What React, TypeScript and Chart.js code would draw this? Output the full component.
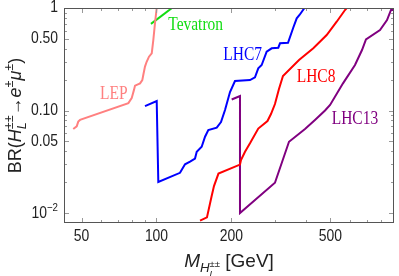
import { useEffect, useRef } from "react";
import { Chart, registerables } from "chart.js";
Chart.register(...registerables);

// ---- data (mass in GeV, branching ratio) ----
const LEP_M = [46.3, 47.8, 48.5, 49.3, 77.1, 79.5, 81.2, 82.0, 85.9, 87.7, 88.5, 89.9, 91.3, 93.3, 95.7, 97.1, 98.6, 100.2];
const LEP_BR = [0.066, 0.070, 0.078, 0.081, 0.118, 0.132, 0.159, 0.175, 0.184, 0.198, 0.222, 0.268, 0.299, 0.335, 0.361, 0.487, 0.709, 1.0];

const TEV_M = [95.0, 115.4];
const TEV_BR = [0.70, 1.0];

const LHC7_M = [89.9, 100.2, 101.7, 124.3, 130.2, 136.4, 142.8, 145.1, 151.9, 156.7, 161.5, 174.6, 181.6, 188.5, 197.4, 206.7, 237.5, 248.7, 256.4, 264.6, 277.1, 290.3, 308.6, 313.5, 337.6, 354.6, 365.9, 375.5, 393.2];
const LHC7_BR = [0.1106, 0.1238, 0.0201, 0.0247, 0.0299, 0.0318, 0.0340, 0.0396, 0.0443, 0.0555, 0.0645, 0.0680, 0.0772, 0.1011, 0.1515, 0.1940, 0.1984, 0.2109, 0.2580, 0.2780, 0.3748, 0.4045, 0.4100, 0.4524, 0.4586, 0.6453, 0.7932, 0.8546, 1.0];

const LHC8_M = [149.6, 159.5, 166.6, 170.2, 177.4, 216.5, 218.5, 226.8, 237.5, 256.4, 279.2, 288.4, 299.2, 310.5, 322.2, 373.8, 426.6, 482.8, 529.6, 572.0, 581.1];
const LHC8_BR = [0.00845, 0.00908, 0.01465, 0.01834, 0.02428, 0.02972, 0.0329, 0.03963, 0.04786, 0.06675, 0.07898, 0.09245, 0.1157, 0.1621, 0.2171, 0.3109, 0.4045, 0.5451, 0.7350, 0.956, 1.0];

const LHC13_M = [200.5, 216.5, 216.5, 299.2, 340.7, 395.1, 433.2, 475.5, 498.2, 561.5, 627.4, 669.4, 694.5, 790.7, 843.7, 875.4, 883.3];
const LHC13_BR = [0.128, 0.1385, 0.0100, 0.01975, 0.04961, 0.066, 0.0808, 0.1, 0.1132, 0.1842, 0.278, 0.3892, 0.495, 0.6099, 0.7636, 0.956, 1.0];

const SERIES_NAMES = ["LEP", "Tevatron", "LHC7", "LHC8", "LHC13"];
const SERIES_COLORS = ["#ff8080", "#11dd11", "#0000ff", "#ff0000", "#800080"];
const SERIES_M = [LEP_M, TEV_M, LHC7_M, LHC8_M, LHC13_M];
const SERIES_BR = [LEP_BR, TEV_BR, LHC7_BR, LHC8_BR, LHC13_BR];

// label anchors (left edge, vertical middle) in data coordinates
const LABEL_M = [59.3, 111.5, 185.5, 365.9, 505.8];
const LABEL_BR = [0.145, 0.675, 0.344, 0.21, 0.0826];

const X_MAJOR = [50, 100, 200, 500];
const X_MAJOR_LABELS = ["50", "100", "200", "500"];
const X_MINOR = [60, 70, 80, 90, 300, 400, 600, 700, 800];
const Y_MAJOR = [1, 0.5, 0.1, 0.05, 0.01];
const Y_MAJOR_LABELS = ["1", "0.50", "0.10", "0.05", ""];
const Y_MINOR = [0.02, 0.03, 0.04, 0.06, 0.07, 0.08, 0.09, 0.2, 0.3, 0.4, 0.6, 0.7, 0.8, 0.9];

type Seg = { t: string; size: number; italic?: boolean; dy?: number; noAdv?: boolean; family?: string };

function segFont(s: Seg) {
  return `${s.italic ? "italic " : ""}${s.size}px ${s.family || "'Liberation Sans', Arial, sans-serif"}`;
}
function measureSegs(ctx: CanvasRenderingContext2D, segs: Seg[]) {
  let x = 0, w = 0;
  for (const s of segs) {
    ctx.font = segFont(s);
    const m = ctx.measureText(s.t).width;
    w = Math.max(w, x + m);
    if (!s.noAdv) x += m;
  }
  return w;
}
function drawSegs(ctx: CanvasRenderingContext2D, segs: Seg[], x0: number, y0: number) {
  let x = x0;
  for (const s of segs) {
    ctx.font = segFont(s);
    const m = ctx.measureText(s.t).width;
    ctx.fillText(s.t, x, y0 + (s.dy || 0));
    if (!s.noAdv) x += m;
  }
}

const TICK_FONT = 16;
const TICK_SX = 0.87;
const XTITLE_FONT = 19;
const YTITLE_FONT = 18;
const LABEL_FONT = 18;
const LABEL_SX = 0.86;

const overlay = {
  id: "overlay",
  afterDraw(chart: any) {
    const { ctx, chartArea: a, scales } = chart;
    const xs = scales.x, ys = scales.y;
    ctx.save();
    // tick marks (inward, all four sides)
    ctx.strokeStyle = "#999";
    ctx.lineWidth = 1;
    const xt = (v: number, len: number) => {
      const p = Math.round(xs.getPixelForValue(v)) + 0.5;
      ctx.beginPath();
      ctx.moveTo(p, a.bottom); ctx.lineTo(p, a.bottom - len);
      ctx.moveTo(p, a.top); ctx.lineTo(p, a.top + len);
      ctx.stroke();
    };
    const yt = (v: number, len: number) => {
      const p = Math.round(ys.getPixelForValue(v)) + 0.5;
      ctx.beginPath();
      ctx.moveTo(a.left, p); ctx.lineTo(a.left + len, p);
      ctx.moveTo(a.right, p); ctx.lineTo(a.right - len, p);
      ctx.stroke();
    };
    X_MAJOR.forEach((v) => xt(v, 5));
    X_MINOR.forEach((v) => xt(v, 3));
    Y_MAJOR.forEach((v) => yt(v, 5));
    Y_MINOR.forEach((v) => yt(v, 3));

    // frame
    ctx.strokeStyle = "#555";
    ctx.lineWidth = 1;
    ctx.strokeRect(a.left + 0.5, a.top + 0.5, a.right - a.left - 1, a.bottom - a.top - 1);

    // series labels
    ctx.textBaseline = "middle";
    ctx.textAlign = "left";
    SERIES_NAMES.forEach((name, i) => {
      const px = xs.getPixelForValue(LABEL_M[i]);
      const py = ys.getPixelForValue(LABEL_BR[i]);
      ctx.save();
      ctx.translate(px, py);
      ctx.scale(LABEL_SX, 1);
      ctx.fillStyle = SERIES_COLORS[i];
      ctx.font = `${LABEL_FONT}px 'Liberation Serif', 'Times New Roman', serif`;
      ctx.fillText(name, 0, 0);
      ctx.restore();
    });

    // tick labels
    ctx.fillStyle = "#222";
    ctx.font = `${TICK_FONT}px 'Liberation Sans', Arial, sans-serif`;
    ctx.textBaseline = "middle";
    ctx.textAlign = "center";
    X_MAJOR.forEach((v, i) => {
      const px = xs.getPixelForValue(v);
      ctx.save();
      ctx.translate(px, a.bottom + 14);
      ctx.scale(TICK_SX, 1);
      ctx.fillText(X_MAJOR_LABELS[i], 0, 0);
      ctx.restore();
    });
    ctx.textAlign = "right";
    Y_MAJOR.forEach((v, i) => {
      if (!Y_MAJOR_LABELS[i]) return;
      const py = ys.getPixelForValue(v);
      ctx.save();
      ctx.translate(a.left - 6, py);
      ctx.scale(TICK_SX, 1);
      ctx.font = `${TICK_FONT}px 'Liberation Sans', Arial, sans-serif`;
      ctx.fillText(Y_MAJOR_LABELS[i], 0, 0);
      ctx.restore();
    });
    // 10^-2 label
    {
      const py = ys.getPixelForValue(0.01);
      const segs: Seg[] = [
        { t: "10", size: TICK_FONT },
        { t: "\u22122", size: TICK_FONT * 0.7, dy: -TICK_FONT * 0.4 },
      ];
      ctx.textAlign = "left";
      ctx.textBaseline = "middle";
      const w = measureSegs(ctx, segs);
      ctx.save();
      ctx.translate(a.left - 6, py + 1);
      ctx.scale(TICK_SX, 1);
      drawSegs(ctx, segs, -w, 0);
      ctx.restore();
    }

    // x axis title
    {
      const F = XTITLE_FONT;
      const segs: Seg[] = [
        { t: "M", size: F, italic: true },
        { t: "H", size: F * 0.7, italic: true, dy: F * 0.25 },
        { t: "L", size: F * 0.5, italic: true, dy: F * 0.5, noAdv: true },
        { t: "\u00b1\u00b1", size: F * 0.5, dy: F * 0.0 },
        { t: " [GeV]", size: F },
      ];
      ctx.textAlign = "left";
      ctx.textBaseline = "alphabetic";
      ctx.fillStyle = "#222";
      const w = measureSegs(ctx, segs);
      const cx = (a.left + a.right) / 2;
      ctx.save();
      ctx.translate(cx, 267);
      drawSegs(ctx, segs, -w / 2, 0);
      ctx.restore();
    }
    // y axis title
    {
      const F = YTITLE_FONT;
      const segs: Seg[] = [
        { t: "BR(", size: F },
        { t: "H", size: F, italic: true },
        { t: "L", size: F * 0.7, italic: true, dy: F * 0.3, noAdv: true },
        { t: "\u00b1\u00b1", size: F * 0.7, dy: -F * 0.42 },
        { t: "\u2192", size: F },
        { t: "e", size: F, italic: true },
        { t: "\u00b1", size: F * 0.7, dy: -F * 0.42 },
        { t: "\u03bc", size: F, italic: true },
        { t: "\u00b1", size: F * 0.7, dy: -F * 0.42 },
        { t: ")", size: F },
      ];
      ctx.textAlign = "left";
      ctx.textBaseline = "alphabetic";
      const w = measureSegs(ctx, segs);
      const cy = (a.top + a.bottom) / 2;
      ctx.save();
      ctx.translate(21, cy);
      ctx.rotate(-Math.PI / 2);
      drawSegs(ctx, segs, -w / 2, 0);
      ctx.restore();
    }
    ctx.restore();
  },
};

export default function App() {
  const ref = useRef<HTMLCanvasElement>(null);
  useEffect(() => {
    if (!ref.current) return;
    const chart = new Chart(ref.current, {
      type: "scatter",
      data: {
        datasets: SERIES_NAMES.map((name, i) => ({
          label: name,
          data: SERIES_M[i].map((m, j) => ({ x: m, y: SERIES_BR[i][j] })),
          showLine: true,
          borderColor: SERIES_COLORS[i],
          backgroundColor: SERIES_COLORS[i],
          borderWidth: 2,
          pointRadius: 0,
          pointHoverRadius: 0,
          fill: false,
          tension: 0,
        })),
      },
      options: {
        responsive: false,
        animation: false,
        devicePixelRatio: 1,
        layout: { padding: { left: 0, top: 8, right: 5, bottom: 0 } },
        plugins: { legend: { display: false }, tooltip: { enabled: false } },
        scales: {
          x: {
            type: "logarithmic",
            min: 42.5,
            max: 900,
            grid: { display: false, drawTicks: false },
            border: { display: false },
            ticks: { display: false },
            afterFit: (s: any) => { s.height = 53; },
          },
          y: {
            type: "logarithmic",
            min: 0.008,
            max: 1,
            grid: { display: false, drawTicks: false },
            border: { display: false },
            ticks: { display: false },
            afterFit: (s: any) => { s.width = 64; },
          },
        },
      },
      plugins: [overlay],
    });
    return () => chart.destroy();
  }, []);
  return (
    <div style={{ position: "absolute", left: 0, top: 0, width: 399, height: 276, background: "#fff" }}>
      <canvas ref={ref} width={399} height={276} style={{ width: 399, height: 276 }} />
    </div>
  );
}
